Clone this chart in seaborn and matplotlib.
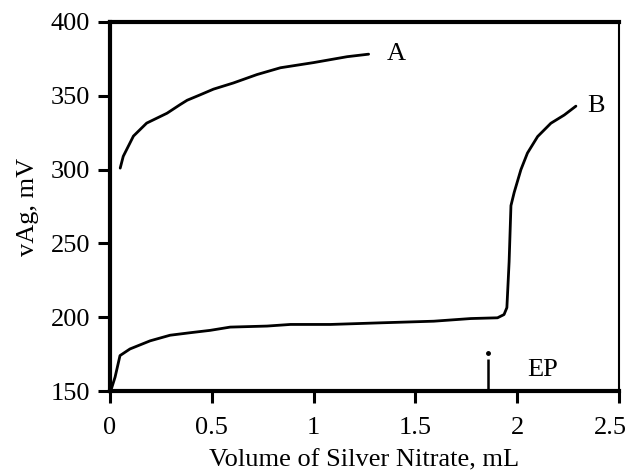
import numpy as np
import pandas as pd
import matplotlib
matplotlib.use("Agg")
import matplotlib.pyplot as plt
import matplotlib.transforms as mtransforms
import seaborn as sns

# Curve A
a_vol = [0.05, 0.065, 0.115, 0.18, 0.28, 0.344, 0.379, 0.44, 0.508, 0.606, 0.722, 0.837, 1.0, 1.165, 1.27]
a_mv = [301, 309, 322.7, 331.5, 338.2, 344.0, 347.0, 350.5, 354.5, 358.7, 364.4, 369.0, 372.5, 376.5, 378.2]

# Curve B
b_vol = [0.0, 0.008, 0.025, 0.049, 0.098, 0.197, 0.295, 0.394, 0.492, 0.59, 0.771, 0.886, 1.083,
         1.196, 1.329, 1.59, 1.772, 1.903, 1.935, 1.949, 1.96, 1.969, 1.985, 2.018, 2.05, 2.1,
         2.165, 2.231, 2.288]
b_mv = [150.0, 152.0, 159.5, 174.0, 178.5, 184.0, 187.8, 189.5, 191.1, 193.3, 194.0, 195.1, 195.1,
        195.6, 196.2, 197.3, 199.1, 199.6, 201.8, 206.5, 237.6, 275.6, 284.6, 300.0, 311.2, 322.4,
        331.4, 337.0, 343.0]

# End point marker
ep_vol = 1.854
ep_mv = [150, 172]
ep_dot = 176

curve_labels = ["A", "B", "EP"]
label_x = [1.36, 2.345, 2.05]
label_y = [378, 343, 164]

x_ticks = [0, 0.5, 1, 1.5, 2, 2.5]
x_ticklabels = ["0", "0.5", "1", "1.5", "2", "2.5"]
y_ticks = [150, 200, 250, 300, 350, 400]

sns.set_theme(style="ticks")
plt.rcParams["font.family"] = ["Liberation Serif", "DejaVu Serif"]

fig = plt.figure(figsize=(6.33, 4.75), dpi=100)
ax = fig.add_axes([0.1738, 0.1768, 0.978 - 0.1738, 0.9537 - 0.1768])

dfa = pd.DataFrame({"vol": a_vol, "mv": a_mv})
dfb = pd.DataFrame({"vol": b_vol, "mv": b_mv})
sns.lineplot(data=dfa, x="vol", y="mv", ax=ax, color="black", lw=2.0, sort=False, estimator=None)
sns.lineplot(data=dfb, x="vol", y="mv", ax=ax, color="black", lw=2.0, sort=False, estimator=None)

ax.plot([ep_vol, ep_vol], ep_mv, color="black", lw=1.8, solid_capstyle="butt")
ax.plot([ep_vol], [ep_dot], marker="o", ms=2.5, color="black")

for t, xx, yy in zip(curve_labels, label_x, label_y):
    ax.text(xx, yy, t, ha="left", va="center", fontsize=19, color="black")

ax.set_xlim(0, 2.5)
ax.set_ylim(150, 400)
ax.set_xticks(x_ticks)
ax.set_xticklabels(x_ticklabels)
ax.set_yticks(y_ticks)
ax.tick_params(axis="both", direction="out", length=8.5, width=2.2, labelsize=19,
               colors="black")
ax.tick_params(axis="x", pad=10)
ax.tick_params(axis="y", pad=6)
ax.set_xlabel("Volume of Silver Nitrate, mL", fontsize=19, color="black", labelpad=8)
ax.set_ylabel("vAg, mV", fontsize=19, color="black", labelpad=8)

# last x tick label sits slightly left of its tick, as in the reference
last = ax.get_xticklabels()[-1]
last.set_transform(last.get_transform() + mtransforms.ScaledTranslation(-6 / 72, 0, fig.dpi_scale_trans))

for side in ["left", "bottom", "top"]:
    ax.spines[side].set_linewidth(3.0)
    ax.spines[side].set_color("black")
ax.spines["right"].set_linewidth(1.5)
ax.spines["right"].set_color("black")
ax.set_facecolor("white")
fig.patch.set_facecolor("white")

fig.savefig("out.png", dpi=100)
